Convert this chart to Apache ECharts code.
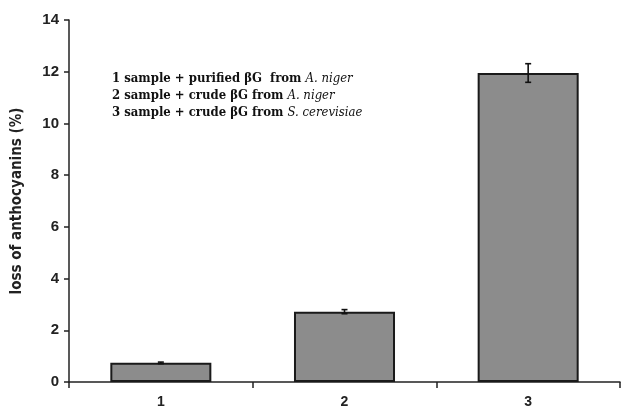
<!DOCTYPE html>
<html>
<head>
<meta charset="utf-8">
<script src="https://cdn.jsdelivr.net/npm/echarts@6/dist/echarts.min.js"></script>
<style>
	html, body { margin: 0; padding: 0; background: #fff; }
	#chart { width: 624px; height: 413px; }
</style>
</head>
<body>
<div id="chart"></div>
<script>
// 数据
var categories = ['1', '2', '3'];
var lossValues = [0.74, 2.72, 11.95];
var lossErrors = [0.03, 0.08, 0.36];
var yTicks = [0, 2, 4, 6, 8, 10, 12, 14];
var legendLines = [
	['1 sample + purified βG  from ', 'A. niger'],
	['2 sample + crude βG from ', 'A. niger'],
	['3 sample + crude βG from ', 'S. cerevisiae']
];

function chart() {
	var myChart = echarts.init(document.getElementById('chart'));

	// 误差线数据
	var errData = [];
	for(var i = 0; i < lossValues.length; i++) {
		errData.push([i, lossValues[i] - lossErrors[i], lossValues[i] + lossErrors[i]]);
	}

	// 图内说明文字
	var noteText = legendLines.map(function(l) {
		return '{n|' + l[0] + '}{i|' + l[1] + '}';
	}).join('\n');

	var option = {
		animation: false,
		title: {
			text: noteText,
			left: 107,
			top: 65,
			textStyle: {
				rich: {
					n: { fontFamily: 'DejaVu Serif Condensed', fontWeight: 'bold', fontSize: 13, color: '#111', lineHeight: 17 },
					i: { fontFamily: 'DejaVu Serif Condensed', fontStyle: 'italic', fontWeight: 'normal', fontSize: 13, color: '#111', lineHeight: 17 }
				}
			}
		},
		grid: {
			left: 69,
			right: 4,
			top: 20,
			bottom: 31
		},
		xAxis: {
			type: 'category',
			data: categories,
			axisLine: { lineStyle: { color: '#222', width: 1.5 } },
			axisTick: { show: true, length: 6, lineStyle: { color: '#222', width: 1.5 } },
			axisLabel: {
				margin: 13,
				color: '#222',
				fontFamily: 'Liberation Sans',
				fontWeight: 'bold',
				fontSize: 14
			},
			splitLine: { show: false }
		},
		yAxis: {
			type: 'value',
			min: 0,
			max: 14,
			interval: 2,
			name: 'loss of anthocyanins (%)',
			nameLocation: 'middle',
			nameGap: 44,
			nameTextStyle: {
				color: '#222',
				fontFamily: 'DejaVu Sans Condensed',
				fontWeight: 'bold',
				fontSize: 15
			},
			axisLine: { show: true, lineStyle: { color: '#222', width: 1.5 } },
			axisTick: { show: true, length: 5, lineStyle: { color: '#222', width: 1.5 } },
			axisLabel: {
				margin: 10,
				color: '#222',
				fontFamily: 'Liberation Sans',
				fontWeight: 'bold',
				fontSize: 15,
				formatter: function(v) {
					return yTicks.indexOf(v) >= 0 ? String(v) : '';
				}
			},
			splitLine: { show: false }
		},
		series: [{
			name: 'loss',
			type: 'bar',
			barWidth: '55%',
			data: lossValues,
			itemStyle: {
				color: '#8c8c8c',
				borderColor: '#1a1a1a',
				borderWidth: 2
			}
		}, {
			name: 'error',
			type: 'custom',
			data: errData,
			z: 10,
			renderItem: function(params, api) {
				var x = api.value(0);
				var lo = api.coord([x, api.value(1)]);
				var hi = api.coord([x, api.value(2)]);
				var w = 3;
				var st = { stroke: '#111', lineWidth: 1.6 };
				return {
					type: 'group',
					children: [
						{ type: 'line', shape: { x1: hi[0], y1: hi[1], x2: lo[0], y2: lo[1] }, style: st },
						{ type: 'line', shape: { x1: hi[0] - w, y1: hi[1], x2: hi[0] + w, y2: hi[1] }, style: st },
						{ type: 'line', shape: { x1: lo[0] - w, y1: lo[1], x2: lo[0] + w, y2: lo[1] }, style: st }
					]
				};
			}
		}]
	};
	myChart.setOption(option);
}
chart();
</script>
</body>
</html>
